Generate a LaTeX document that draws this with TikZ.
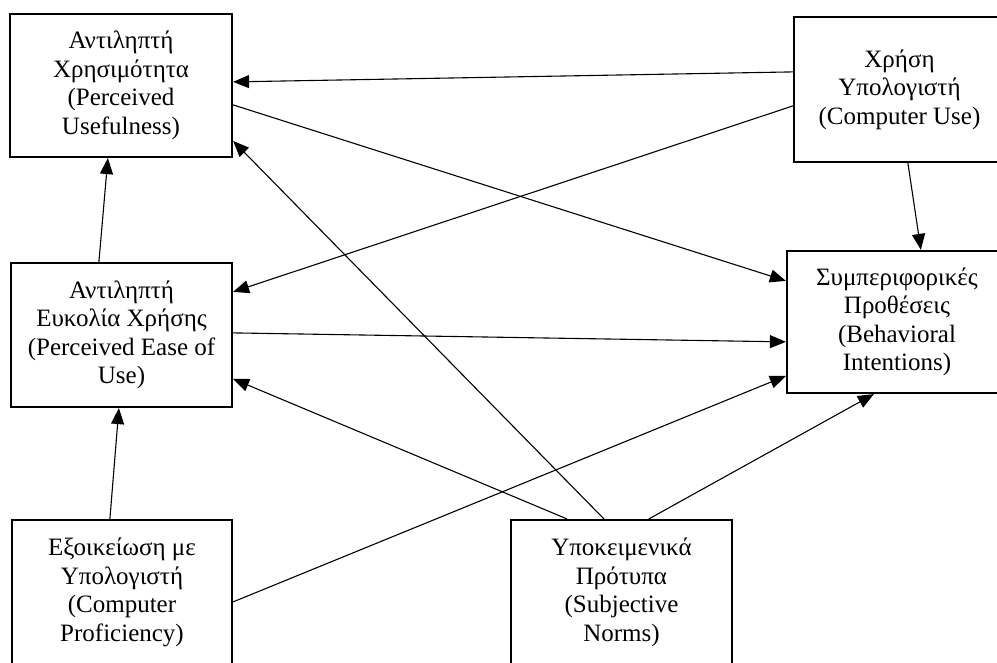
\documentclass[tikz,border=0pt]{standalone}
\usepackage{fontspec}
\setmainfont{Liberation Serif}
\usetikzlibrary{arrows.meta,calc}
\begin{document}
\begin{tikzpicture}[x=1pt,y=-1pt,
  construct/.style={draw, line width=2.2pt, rectangle, align=center, inner sep=0pt,
    font=\fontsize{25}{28.5}\selectfont},
  link/.style={line width=1.1pt, -{Triangle[length=16pt,width=13pt]}}]
\clip (0,0) rectangle (997,663);
\useasboundingbox (0,0) rectangle (997,663);

% constructs of the model
\node[construct, minimum width=222pt, minimum height=143pt] (pu) at (121,85.5)
  {Αντιληπτή\\Χρησιμότητα\\(Perceived\\Usefulness)};
\node[construct, minimum width=211pt, minimum height=145pt] (cu) at (899.5,89.5)
  {Χρήση\\Υπολογιστή\\(Computer Use)};
\node[construct, minimum width=221pt, minimum height=144pt] (peou) at (121.5,335)
  {Αντιληπτή\\Ευκολία Χρήσης\\(Perceived Ease of\\Use)};
\node[construct, minimum width=220pt, minimum height=142pt] (bi) at (897,322)
  {Συμπεριφορικές\\Προθέσεις\\(Behavioral\\Intentions)};
\node[construct, minimum width=220pt, minimum height=145pt] (cp) at (122,592.5)
  {Εξοικείωση με\\Υπολογιστή\\(Computer\\Proficiency)};
\node[construct, minimum width=221pt, minimum height=145pt] (sn) at (621.5,592.5)
  {Υποκειμενικά\\Πρότυπα\\(Subjective\\Norms)};

% hypothesised paths
\draw[link] ([yshift=-56pt]cu.north west) -- ([yshift=-69pt]pu.north east);
\draw[link] ([yshift=-90pt]cu.north west) -- ([yshift=-30pt]peou.north east);
\draw[link] ([xshift=115pt]cu.south west) -- ([xshift=135pt]bi.north west);
\draw[link] ([yshift=-92pt]pu.north east) -- ([yshift=-31pt]bi.north west);
\draw[link] ([xshift=89pt]peou.north west) -- ([xshift=99pt]pu.south west);
\draw[link] ([yshift=-71pt]peou.north east) -- ([yshift=-92pt]bi.north west);
\draw[link] ([xshift=57pt]sn.north west) -- ([yshift=-117pt]peou.north east);
\draw[link] ([xshift=94pt]sn.north west) -- ([yshift=-128pt]pu.north east);
\draw[link] ([xshift=139pt]sn.north west) -- ([xshift=88pt]bi.south west);
\draw[link] ([xshift=99pt]cp.north west) -- ([xshift=109pt]peou.south west);
\draw[link] ([yshift=-83pt]cp.north east) -- ([yshift=-126pt]bi.north west);
\end{tikzpicture}
\end{document}
